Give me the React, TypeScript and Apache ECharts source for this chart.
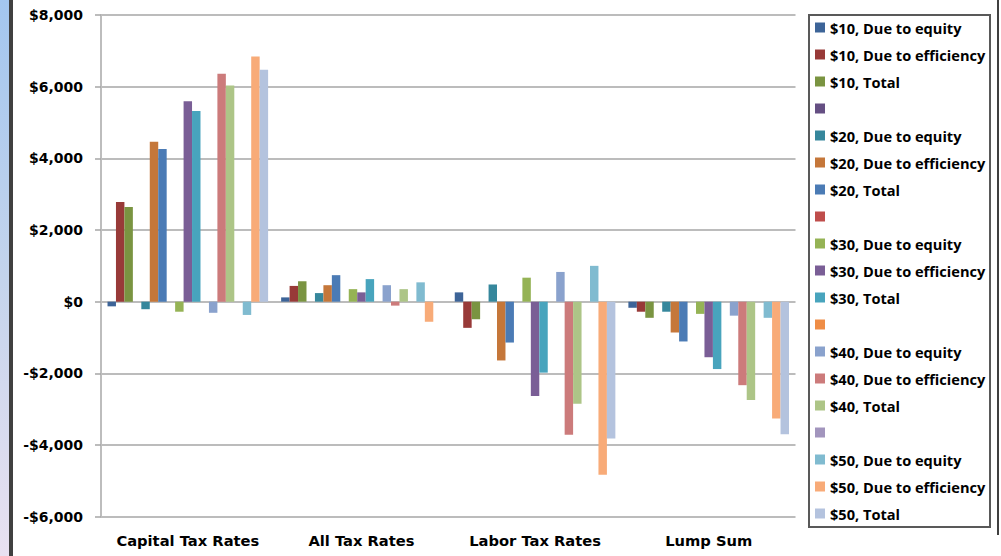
import React, { useEffect, useRef } from "react";
import * as echarts from "echarts";

// Categories along the x axis
const categories = ["Capital Tax Rates", "All Tax Rates", "Labor Tax Rates", "Lump Sum"];

// Welfare change per scenario ($), one value per category
const eq10 = [-130, 120, 260, -170];
const eff10 = [2780, 440, -730, -280];
const tot10 = [2640, 570, -490, -450];
const eq20 = [-210, 240, 480, -280];
const eff20 = [4460, 460, -1640, -860];
const tot20 = [4260, 740, -1140, -1110];
const eq30 = [-280, 350, 670, -340];
const eff30 = [5590, 260, -2630, -1550];
const tot30 = [5320, 630, -1980, -1880];
const eq40 = [-310, 460, 830, -390];
const eff40 = [6360, -110, -3710, -2330];
const tot40 = [6030, 350, -2850, -2740];
const eq50 = [-370, 540, 1000, -450];
const eff50 = [6840, -560, -4830, -3260];
const tot50 = [6470, 0, -3820, -3700];
const emptyGroup = [null, null, null, null];

// Y axis range and step
const yMin = -6000;
const yMax = 8000;
const yStep = 2000;

type S = { name: string; label: string; data: (number | null)[]; color: string };

const seriesDefs: S[] = [
  { name: "$10, Due to equity", label: "$10, Due to equity", data: eq10, color: "#3D6498" },
  { name: "$10, Due to efficiency", label: "$10, Due to efficiency", data: eff10, color: "#983A38" },
  { name: "$10, Total", label: "$10, Total", data: tot10, color: "#7A9441" },
  { name: "spacer1", label: " ", data: emptyGroup, color: "#654F83" },
  { name: "$20, Due to equity", label: "$20, Due to equity", data: eq20, color: "#36879C" },
  { name: "$20, Due to efficiency", label: "$20, Due to efficiency", data: eff20, color: "#C5773A" },
  { name: "$20, Total", label: "$20, Total", data: tot20, color: "#4B7BB5" },
  { name: "spacer2", label: " ", data: emptyGroup, color: "#BF4D4B" },
  { name: "$30, Due to equity", label: "$30, Due to equity", data: eq30, color: "#95B355" },
  { name: "$30, Due to efficiency", label: "$30, Due to efficiency", data: eff30, color: "#7A5E96" },
  { name: "$30, Total", label: "$30, Total", data: tot30, color: "#48A4BD" },
  { name: "spacer3", label: " ", data: emptyGroup, color: "#EF8D46" },
  { name: "$40, Due to equity", label: "$40, Due to equity", data: eq40, color: "#8AA2CD" },
  { name: "$40, Due to efficiency", label: "$40, Due to efficiency", data: eff40, color: "#CC7B7B" },
  { name: "$40, Total", label: "$40, Total", data: tot40, color: "#ADC587" },
  { name: "spacer4", label: " ", data: emptyGroup, color: "#A295BD" },
  { name: "$50, Due to equity", label: "$50, Due to equity", data: eq50, color: "#80BBD0" },
  { name: "$50, Due to efficiency", label: "$50, Due to efficiency", data: eff50, color: "#F8AB78" },
  { name: "$50, Total", label: "$50, Total", data: tot50, color: "#B4C3DE" },
];

const labelByName: Record<string, string> = {};
seriesDefs.forEach((s) => (labelByName[s.name] = s.label));

const fmtMoney = (v: number) =>
  (v < 0 ? "-" : "") + "$" + Math.abs(v).toLocaleString("en-US");

export default function App() {
  const ref = useRef<HTMLDivElement>(null);

  useEffect(() => {
    if (!ref.current) return;
    const chart = echarts.init(ref.current, undefined, { renderer: "svg" });

    chart.setOption({
      animation: false,
      backgroundColor: "#FFFFFF",
      grid: { left: 101, right: 205.5, top: 15, bottom: 39.3, containLabel: false },
      legend: {
        orient: "vertical",
        left: 815,
        top: 20,
        padding: 0,
        itemWidth: 10,
        itemHeight: 10,
        itemGap: 12,
        icon: "rect",
        selectedMode: false,
        data: seriesDefs.map((s) => s.name),
        formatter: (name: string) => labelByName[name] ?? name,
        textStyle: {
          fontFamily: "Open Sans",
          fontWeight: "bold",
          fontSize: 14.6,
          lineHeight: 15,
          height: 15,
          color: "#000000",
        },
      },
      xAxis: {
        type: "category",
        data: categories,
        axisLine: { show: false, onZero: false },
        axisTick: { show: false },
        axisLabel: {
          interval: 0,
          margin: 16,
          fontFamily: "DejaVu Sans",
          fontWeight: "bold",
          fontSize: 14.7,
          color: "#000000",
        },
        splitLine: { show: false },
      },
      yAxis: {
        type: "value",
        min: yMin,
        max: yMax,
        interval: yStep,
        axisLine: { show: true, lineStyle: { color: "#BDBDBD", width: 2 } },
        axisTick: { show: true, length: 6, lineStyle: { color: "#A6A6A6", width: 1.5 } },
        axisLabel: {
          margin: 18,
          formatter: fmtMoney,
          fontFamily: "DejaVu Sans",
          fontWeight: "bold",
          fontSize: 14,
          color: "#000000",
        },
        splitLine: { show: true, lineStyle: { color: "#A6A6A6", width: 1.5 } },
      },
      series: seriesDefs.map((s) => ({
        name: s.name,
        type: "bar",
        data: s.data,
        barGap: "0%",
        barCategoryGap: "7.5%",
        itemStyle: { color: s.color },
      })),
      graphic: [
        {
          type: "rect",
          shape: { x: 0, y: 0, width: 9, height: 556 },
          style: {
            fill: new echarts.graphic.LinearGradient(0, 0, 0, 1, [
              { offset: 0, color: "#A3C6EF" },
              { offset: 0.5, color: "#C4D4EC" },
              { offset: 1, color: "#E9E1F1" },
            ]),
          },
          silent: true,
        },
        {
          type: "rect",
          shape: { x: 9, y: 0, width: 4, height: 556 },
          style: { fill: "#404040" },
          silent: true,
        },
        {
          type: "rect",
          shape: { x: 997, y: 0, width: 2, height: 535 },
          style: { fill: "#404040" },
          silent: true,
        },
        {
          type: "rect",
          shape: { x: 809, y: 15, width: 181, height: 512 },
          style: { fill: "none", stroke: "#595959", lineWidth: 2 },
          silent: true,
        },
      ],
    });

    return () => chart.dispose();
  }, []);

  return (
    <div
      ref={ref}
      style={{ position: "fixed", left: 0, top: 0, width: 1001, height: 556 }}
    />
  );
}
